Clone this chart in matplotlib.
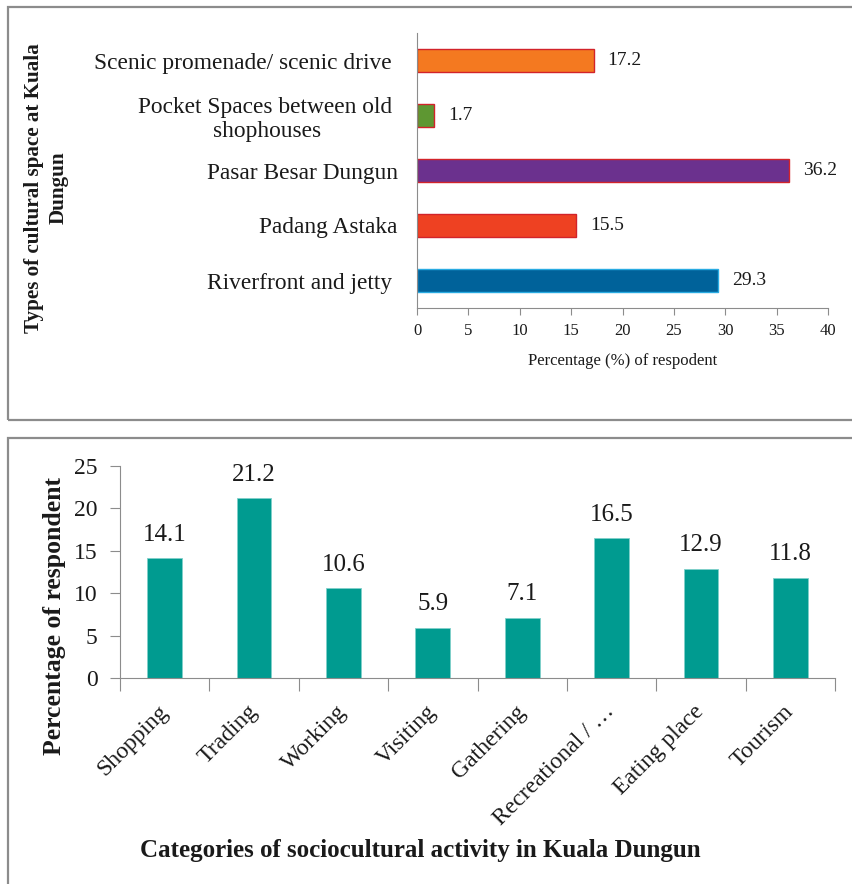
import matplotlib.pyplot as plt
from matplotlib.patches import Rectangle

W, H = 852, 884

# top chart data (bottom-to-top order as drawn)
spaces = ['Riverfront and jetty ', 'Padang Astaka', 'Pasar Besar Dungun',
          'Pocket Spaces between old \nshophouses', 'Scenic promenade/ scenic drive ']
space_pct = [29.3, 15.5, 36.2, 1.7, 17.2]
space_colors = ['#00629A', '#EE4122', '#6B318E', '#5E9732', '#F47920']
space_edges = ['#29ABE2', '#D2232A', '#D2232A', '#D2232A', '#D2232A']

# bottom chart data
activities = ['Shopping', 'Trading', 'Working', 'Visiting', 'Gathering',
              'Recreational / …', 'Eating place', 'Tourism']
activity_pct = [14.1, 21.2, 10.6, 5.9, 7.1, 16.5, 12.9, 11.8]

plt.rcParams['font.family'] = ['Liberation Serif', 'DejaVu Serif']
txt = '#1a1a1a'
axis_gray = '#8c8c8c'


def px_box(left, top, right, bottom):
    return [left / W, 1 - bottom / H, (right - left) / W, (bottom - top) / H]


fig = plt.figure(figsize=(W / 100, H / 100), dpi=100)

# panel frames
fig.patches.append(Rectangle((8 / W, 1 - 420 / H), 850 / W, 413 / H, transform=fig.transFigure,
                             fill=False, edgecolor=axis_gray, linewidth=1.6))
fig.patches.append(Rectangle((8 / W, -0.01), 850 / W, 1 - 438 / H + 0.01, transform=fig.transFigure,
                             fill=False, edgecolor=axis_gray, linewidth=1.6))

# ---- top: horizontal bars ----
ax1 = fig.add_axes(px_box(417, 33, 828, 308))
y = range(len(spaces))
ax1.barh(y, space_pct, height=0.42, color=space_colors, edgecolor=space_edges, linewidth=1)
ax1.set_xlim(0, 40)
ax1.set_ylim(-0.5, len(spaces) - 0.5)
ax1.set_xticks(range(0, 41, 5))
ax1.set_yticks(list(y))
ax1.set_yticklabels(spaces, fontsize=16.8, color=txt, multialignment='center')
ax1.tick_params(axis='y', length=0, pad=14)
ax1.tick_params(axis='x', length=5, color=axis_gray, labelsize=12, labelcolor=txt, pad=6)
for s in ['top', 'right']:
    ax1.spines[s].set_visible(False)
for s in ['left', 'bottom']:
    ax1.spines[s].set_color(axis_gray)
ax1.set_xlabel('Percentage (%) of respodent', fontsize=12, color=txt, labelpad=10)
for i, v in enumerate(space_pct):
    ax1.annotate(f'{v}', (v, i), xytext=(10, 0), textcoords='offset points',
                 va='center', ha='left', fontsize=14, color=txt)
fig.text(46 / W, 1 - 188 / H, 'Types of cultural space at Kuala\nDungun', rotation=90,
         ha='center', va='center', fontsize=15.2, fontweight='bold', color=txt,
         multialignment='center', linespacing=1.3)

# ---- bottom: vertical bars ----
ax2 = fig.add_axes(px_box(120, 466, 835, 678))
x = range(len(activities))
ax2.bar(x, activity_pct, width=0.39, color='#009B90', edgecolor='#7fd0ca', linewidth=0.6)
ax2.set_xlim(-0.5, len(activities) - 0.5)
ax2.set_ylim(0, 25)
ax2.set_yticks(range(0, 26, 5))
ax2.tick_params(axis='y', length=7, color=axis_gray, labelsize=17, labelcolor=txt, pad=9)
ax2.set_xticks([i - 0.5 for i in range(len(activities) + 1)])
ax2.set_xticklabels([])
ax2.set_xticks(list(x), minor=True)
ax2.set_xticklabels(activities, minor=True, rotation=45, ha='right', va='center',
                    rotation_mode='anchor', fontsize=17, color=txt)
ax2.tick_params(axis='x', which='major', length=9, color=axis_gray)
ax2.tick_params(axis='x', which='minor', length=0, pad=22)
for s in ['top', 'right']:
    ax2.spines[s].set_visible(False)
for s in ['left', 'bottom']:
    ax2.spines[s].set_color(axis_gray)
for i, v in enumerate(activity_pct):
    ax2.annotate(f'{v}', (i, v), xytext=(0, 9), textcoords='offset points',
                 ha='center', va='bottom', fontsize=18, color=txt)
fig.text(54 / W, 1 - 616 / H, 'Percentage of respondent', rotation=90,
         ha='center', va='center', fontsize=18.5, fontweight='bold', color=txt)
fig.text(420 / W, 1 - 850 / H, 'Categories of sociocultural activity in Kuala Dungun',
         ha='center', va='center', fontsize=18, fontweight='bold', color=txt)

fig.savefig('out.png', dpi=100)
